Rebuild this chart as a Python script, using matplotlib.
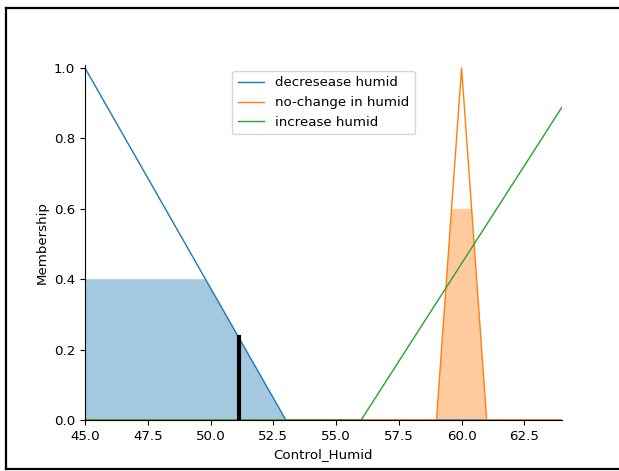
import matplotlib
matplotlib.use("Agg")
import matplotlib.pyplot as plt
from matplotlib.lines import Line2D

plt.rcParams["font.size"] = 9.6

# Membership function vertices
dec_x = [45, 53, 64]
dec_y = [1.0, 0.0, 0.0]
noc_x = [45, 59, 60, 61, 64]
noc_y = [0.0, 0.0, 1.0, 0.0, 0.0]
inc_x = [45, 56, 64]
inc_y = [0.0, 0.0, 0.889]

# Aggregated activation (clipped)
dec_act_x = [45, 49.8, 53, 64]
dec_act_y = [0.4, 0.4, 0.0, 0.0]
noc_act_x = [45, 59, 59.6, 60.4, 61, 64]
noc_act_y = [0.0, 0.0, 0.6, 0.6, 0.0, 0.0]
inc_act_x = [45, 64]
inc_act_y = [0.0, 0.0]

crisp_x = 51.12
crisp_y = 0.235

labels = ["decresease humid", "no-change in humid", "increase humid"]
colors = ["#1f77b4", "#ff7f0e", "#2ca02c"]

W, H = 619, 471
fig = plt.figure(figsize=(W / 100, H / 100), dpi=100)
ax = fig.add_axes([85 / W, 1 - 420 / H, (562 - 85) / W, (420 - 64.5) / H])

for (x, y), lab, c in zip([(dec_x, dec_y), (noc_x, noc_y), (inc_x, inc_y)], labels, colors):
    ax.plot(x, y, color=c, lw=1, label=lab)

for (x, y), c in zip([(dec_act_x, dec_act_y), (noc_act_x, noc_act_y), (inc_act_x, inc_act_y)], colors):
    ax.fill_between(x, 0, y, facecolor=c, alpha=0.4)

ax.plot([crisp_x, crisp_x], [0, crisp_y], color="k", lw=3)

ax.set_xlim(45, 64)
ax.set_ylim(0, 1.01)
ax.set_xticks([45.0, 47.5, 50.0, 52.5, 55.0, 57.5, 60.0, 62.5])
ax.set_yticks([0.0, 0.2, 0.4, 0.6, 0.8, 1.0])
ax.spines["top"].set_visible(False)
ax.spines["right"].set_visible(False)
ax.set_xlabel("Control_Humid")
ax.set_ylabel("Membership")
ax.legend(loc="upper center", framealpha=0.8)

# Screenshot frame
lw = 1.6
fig.add_artist(Line2D([6 / W, 6 / W], [1 - 8 / H, 1 - 469 / H], color="black", lw=lw, transform=fig.transFigure))
fig.add_artist(Line2D([6 / W, 1.01], [1 - 8 / H, 1 - 8 / H], color="black", lw=lw, transform=fig.transFigure))
fig.add_artist(Line2D([6 / W, 1.01], [1 - 469 / H, 1 - 469 / H], color="black", lw=lw, transform=fig.transFigure))

fig.savefig("out.png", dpi=100)
